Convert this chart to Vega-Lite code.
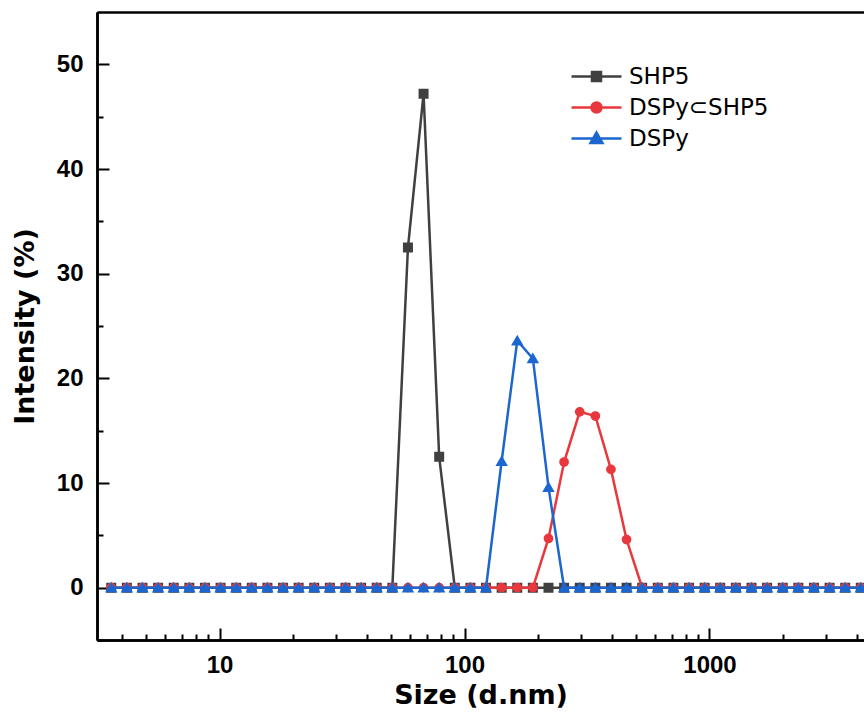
{
  "$schema": "https://vega.github.io/schema/vega-lite/v6.json",
  "autosize": {"type": "none"},
  "padding": {"left": 97, "top": 12, "right": 0, "bottom": 75},
  "width": 767,
  "height": 628,
  "background": "white",
  "config": {
    "view": {"stroke": null},
    "font": "Liberation Sans",
    "axis": {"grid": false, "domainColor": "black", "tickColor": "black", "labelColor": "black", "titleColor": "black", "domainWidth": 2.5, "tickWidth": 2}
  },
  "data": {"values": [
    {"x": 3.615, "SHP5": 0, "DSPy⊂SHP5": 0, "DSPy": 0},
    {"x": 4.187, "SHP5": 0, "DSPy⊂SHP5": 0, "DSPy": 0},
    {"x": 4.849, "SHP5": 0, "DSPy⊂SHP5": 0, "DSPy": 0},
    {"x": 5.615, "SHP5": 0, "DSPy⊂SHP5": 0, "DSPy": 0},
    {"x": 6.503, "SHP5": 0, "DSPy⊂SHP5": 0, "DSPy": 0},
    {"x": 7.531, "SHP5": 0, "DSPy⊂SHP5": 0, "DSPy": 0},
    {"x": 8.721, "SHP5": 0, "DSPy⊂SHP5": 0, "DSPy": 0},
    {"x": 10.1, "SHP5": 0, "DSPy⊂SHP5": 0, "DSPy": 0},
    {"x": 11.7, "SHP5": 0, "DSPy⊂SHP5": 0, "DSPy": 0},
    {"x": 13.54, "SHP5": 0, "DSPy⊂SHP5": 0, "DSPy": 0},
    {"x": 15.69, "SHP5": 0, "DSPy⊂SHP5": 0, "DSPy": 0},
    {"x": 18.17, "SHP5": 0, "DSPy⊂SHP5": 0, "DSPy": 0},
    {"x": 21.04, "SHP5": 0, "DSPy⊂SHP5": 0, "DSPy": 0},
    {"x": 24.36, "SHP5": 0, "DSPy⊂SHP5": 0, "DSPy": 0},
    {"x": 28.21, "SHP5": 0, "DSPy⊂SHP5": 0, "DSPy": 0},
    {"x": 32.67, "SHP5": 0, "DSPy⊂SHP5": 0, "DSPy": 0},
    {"x": 37.84, "SHP5": 0, "DSPy⊂SHP5": 0, "DSPy": 0},
    {"x": 43.82, "SHP5": 0, "DSPy⊂SHP5": 0, "DSPy": 0},
    {"x": 50.75, "SHP5": 0, "DSPy⊂SHP5": 0, "DSPy": 0},
    {"x": 58.77, "SHP5": 32.5, "DSPy⊂SHP5": 0, "DSPy": 0},
    {"x": 68.06, "SHP5": 47.2, "DSPy⊂SHP5": 0, "DSPy": 0},
    {"x": 78.82, "SHP5": 12.5, "DSPy⊂SHP5": 0, "DSPy": 0},
    {"x": 91.28, "SHP5": 0, "DSPy⊂SHP5": 0, "DSPy": 0},
    {"x": 105.7, "SHP5": 0, "DSPy⊂SHP5": 0, "DSPy": 0},
    {"x": 122.4, "SHP5": 0, "DSPy⊂SHP5": 0, "DSPy": 0},
    {"x": 141.8, "SHP5": 0, "DSPy⊂SHP5": 0, "DSPy": 12.1},
    {"x": 164.2, "SHP5": 0, "DSPy⊂SHP5": 0, "DSPy": 23.6},
    {"x": 190.1, "SHP5": 0, "DSPy⊂SHP5": 0, "DSPy": 21.9},
    {"x": 220.2, "SHP5": 0, "DSPy⊂SHP5": 4.7, "DSPy": 9.6},
    {"x": 255.0, "SHP5": 0, "DSPy⊂SHP5": 12.0, "DSPy": 0},
    {"x": 295.3, "SHP5": 0, "DSPy⊂SHP5": 16.8, "DSPy": 0},
    {"x": 342.0, "SHP5": 0, "DSPy⊂SHP5": 16.4, "DSPy": 0},
    {"x": 396.1, "SHP5": 0, "DSPy⊂SHP5": 11.3, "DSPy": 0},
    {"x": 458.7, "SHP5": 0, "DSPy⊂SHP5": 4.6, "DSPy": 0},
    {"x": 531.2, "SHP5": 0, "DSPy⊂SHP5": 0, "DSPy": 0},
    {"x": 615.1, "SHP5": 0, "DSPy⊂SHP5": 0, "DSPy": 0},
    {"x": 712.4, "SHP5": 0, "DSPy⊂SHP5": 0, "DSPy": 0},
    {"x": 825.0, "SHP5": 0, "DSPy⊂SHP5": 0, "DSPy": 0},
    {"x": 955.4, "SHP5": 0, "DSPy⊂SHP5": 0, "DSPy": 0},
    {"x": 1106, "SHP5": 0, "DSPy⊂SHP5": 0, "DSPy": 0},
    {"x": 1281, "SHP5": 0, "DSPy⊂SHP5": 0, "DSPy": 0},
    {"x": 1484, "SHP5": 0, "DSPy⊂SHP5": 0, "DSPy": 0},
    {"x": 1718, "SHP5": 0, "DSPy⊂SHP5": 0, "DSPy": 0},
    {"x": 1990, "SHP5": 0, "DSPy⊂SHP5": 0, "DSPy": 0},
    {"x": 2305, "SHP5": 0, "DSPy⊂SHP5": 0, "DSPy": 0},
    {"x": 2669, "SHP5": 0, "DSPy⊂SHP5": 0, "DSPy": 0},
    {"x": 3091, "SHP5": 0, "DSPy⊂SHP5": 0, "DSPy": 0},
    {"x": 3580, "SHP5": 0, "DSPy⊂SHP5": 0, "DSPy": 0},
    {"x": 4145, "SHP5": 0, "DSPy⊂SHP5": 0, "DSPy": 0}
  ]},
  "transform": [{"fold": ["SHP5", "DSPy⊂SHP5", "DSPy"], "as": ["series", "value"]}],
  "resolve": {"axis": {"x": "independent", "y": "independent"}},
  "layer": [
    {
      "transform": [{"filter": {"field": "series", "equal": "SHP5"}}],
      "mark": {"type": "line", "strokeWidth": 2.5, "color": "#404040"},
      "encoding": {
        "x": {"field": "x", "type": "quantitative",
          "scale": {"type": "log", "domain": [3.162, 4272], "nice": false},
          "axis": {"orient": "bottom", "values": [10, 100, 1000], "format": "d", "tickSize": -12, "labelPadding": 25,
            "labelFont": "Liberation Sans", "labelFontWeight": "bold", "labelFontSize": 24,
            "title": "Size (d.nm)", "titleFont": "DejaVu Sans", "titleFontWeight": "bold", "titleFontSize": 27, "titlePadding": 5}},
        "y": {"field": "value", "type": "quantitative",
          "scale": {"domain": [-5, 55], "nice": false, "zero": false},
          "axis": {"orient": "left", "values": [0, 10, 20, 30, 40, 50], "tickSize": -12, "labelPadding": 26,
            "labelFont": "Liberation Sans", "labelFontWeight": "bold", "labelFontSize": 24,
            "title": "Intensity (%)", "titleFont": "DejaVu Sans", "titleFontWeight": "bold", "titleFontSize": 27, "titlePadding": 17}}
      }
    },
    {
      "transform": [{"filter": {"field": "series", "equal": "SHP5"}}],
      "mark": {"type": "point", "filled": true, "shape": "square", "size": 64, "opacity": 1},
      "encoding": {
        "x": {"field": "x", "type": "quantitative",
          "axis": {"orient": "bottom", "values": [4, 5, 6, 7, 8, 9, 20, 30, 40, 50, 60, 70, 80, 90, 200, 300, 400, 500, 600, 700, 800, 900, 2000, 3000, 4000],
            "tickSize": -6, "labels": false, "title": null}},
        "y": {"field": "value", "type": "quantitative",
          "axis": {"orient": "left", "values": [-5, 5, 15, 25, 35, 45], "tickSize": -6, "labels": false, "title": null}},
        "fill": {
          "field": "series", "type": "nominal",
          "scale": {"domain": ["SHP5", "DSPy⊂SHP5", "DSPy"], "range": ["#404040", "#e8383d", "#1c66d0"]},
          "legend": {
            "title": null, "orient": "none", "legendX": 488, "legendY": 53, "padding": 0,
            "symbolSize": 400, "labelOffset": 21, "rowPadding": 7, "symbolStrokeWidth": 2.5,
            "symbolType": {"expr": "datum.value === 'SHP5' ? 'M-2.5,0H2.5M-0.45,-0.45H0.45V0.45H-0.45Z' : datum.value === 'DSPy' ? 'M-2.5,0H2.5M0,-0.6L0.6,0.45H-0.6Z' : 'M-2.5,0H2.5M0.5,0A0.5,0.5,0,1,1,-0.5,0A0.5,0.5,0,1,1,0.5,0Z'"},
            "labelFont": "DejaVu Sans", "labelFontSize": 23, "labelColor": "black", "labelLimit": 300
          }
        },
        "stroke": {
          "field": "series", "type": "nominal",
          "scale": {"domain": ["SHP5", "DSPy⊂SHP5", "DSPy"], "range": ["#404040", "#e8383d", "#1c66d0"]}
        }
      }
    },
    {
      "transform": [{"filter": {"field": "series", "equal": "DSPy⊂SHP5"}}],
      "mark": {"type": "line", "strokeWidth": 2.5, "color": "#e8383d"},
      "encoding": {
        "x": {"field": "x", "type": "quantitative",
          "axis": {"orient": "top", "ticks": false, "labels": false, "title": null}},
        "y": {"field": "value", "type": "quantitative", "axis": null}
      }
    },
    {
      "transform": [{"filter": {"field": "series", "equal": "DSPy⊂SHP5"}}],
      "mark": {"type": "point", "filled": true, "shape": "circle", "size": 60, "opacity": 1},
      "encoding": {
        "x": {"field": "x", "type": "quantitative", "axis": null},
        "y": {"field": "value", "type": "quantitative", "axis": null},
        "fill": {"field": "series", "type": "nominal"},
        "stroke": {"field": "series", "type": "nominal"}
      }
    },
    {
      "transform": [{"filter": {"field": "series", "equal": "DSPy"}}],
      "mark": {"type": "line", "strokeWidth": 2.5, "color": "#1c66d0"},
      "encoding": {
        "x": {"field": "x", "type": "quantitative", "axis": null},
        "y": {"field": "value", "type": "quantitative", "axis": null}
      }
    },
    {
      "transform": [{"filter": {"field": "series", "equal": "DSPy"}}],
      "mark": {"type": "point", "filled": true, "shape": "triangle-up", "size": 80, "opacity": 1},
      "encoding": {
        "x": {"field": "x", "type": "quantitative", "axis": null},
        "y": {"field": "value", "type": "quantitative", "axis": null},
        "fill": {"field": "series", "type": "nominal"},
        "stroke": {"field": "series", "type": "nominal"}
      }
    }
  ]
}
